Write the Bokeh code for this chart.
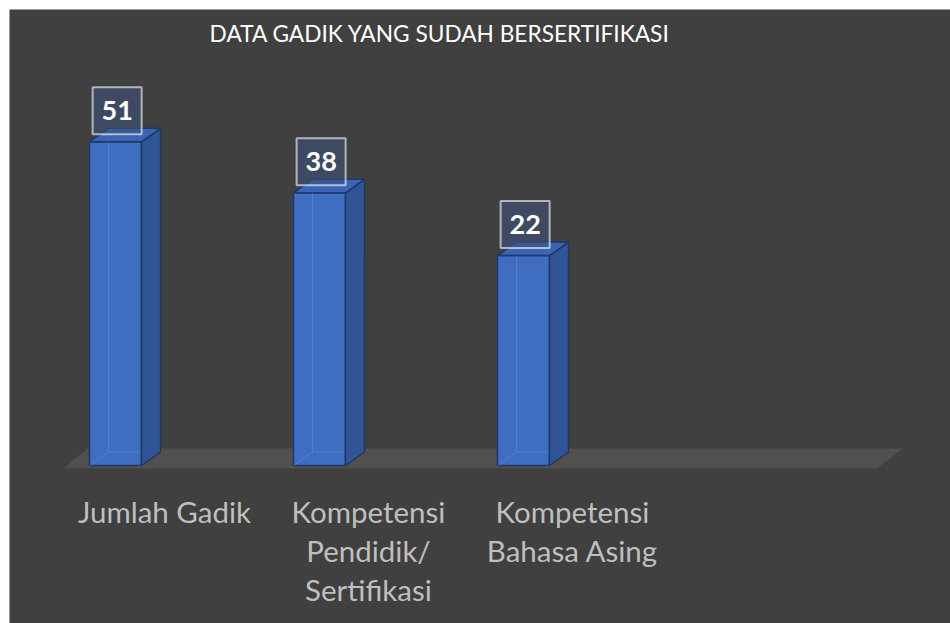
from bokeh.plotting import figure
from bokeh.models import Range1d, ColumnDataSource
from bokeh.core.properties import value
from bokeh.embed import file_html
from bokeh.resources import INLINE

# ---- data ----
TITLE = "DATA GADIK YANG SUDAH BERSERTIFIKASI"
CATEGORIES = ["Jumlah Gadik", "Kompetensi Pendidik/ Sertifikasi", "Kompetensi Bahasa Asing"]
CATEGORY_LABELS = ["Jumlah Gadik", "Kompetensi\nPendidik/\nSertifikasi", "Kompetensi\nBahasa Asing"]
VALUES = [51, 38, 22]

# ---- layout / style constants ----
W, H = 950, 623
PAD_L, PAD_T = 9, 9
CAT0_PX, SLOT_PX = 115.0, 204.0      # pixel position of first category, spacing
FLOOR_PX, PX_PER_UNIT = 465.0, 3.924  # perspective-fitted vertical scale
BASE = -31.5                          # value at the 3-D floor
BAR_W = 0.255
DX = 19 / SLOT_PX                     # depth offset in x units
DY = 13.5 / PX_PER_UNIT               # depth offset in y units

BG = "#404040"
FRONT = "#3f6dc0"
SIDE = "#2f5597"
TOP = "#3a64b4"
EDGE = "#1f3864"
FLOOR = "#514f4f"

x_start = (PAD_L - CAT0_PX) / SLOT_PX
x_end = (W - CAT0_PX) / SLOT_PX
y_start = BASE - (H - FLOOR_PX) / PX_PER_UNIT
y_end = BASE + (FLOOR_PX - PAD_T) / PX_PER_UNIT

p = figure(width=W, height=H, output_backend="svg", toolbar_location=None,
           x_range=Range1d(x_start, x_end), y_range=Range1d(y_start, y_end),
           x_axis_location=None, y_axis_location=None,
           min_border_left=PAD_L, min_border_top=PAD_T,
           min_border_right=0, min_border_bottom=0)
p.border_fill_color = "white"
p.background_fill_color = BG
p.outline_line_color = None
p.grid.visible = False

n = len(VALUES)
xs = list(range(n))

# floor (decorative 3-D base)
fl_l, fl_r = -0.255, 3.73
fd_x, fd_y = 0.118, 20 / PX_PER_UNIT
f_bot = BASE - 3 / PX_PER_UNIT
p.patch([fl_l, fl_r, fl_r + 0.133, fl_l + fd_x],
        [f_bot, f_bot, f_bot + fd_y, f_bot + fd_y],
        fill_color=FLOOR, line_color=None)

# bars: front faces
src = ColumnDataSource(dict(x=xs, top=VALUES, bottom=[BASE] * n, cat=CATEGORIES))
p.vbar(x="x", top="top", bottom="bottom", width=BAR_W, source=src,
       fill_color=FRONT, line_color=EDGE, line_width=1.5)

# hidden back edges showing faintly through the front face
hx, hy = [], []
for x, v in zip(xs, VALUES):
    l = x - BAR_W / 2
    r = x + BAR_W / 2
    hx.append([l, l + DX, l + DX]); hy.append([BASE, BASE + DY, v + DY])
    hx.append([l + DX, r]); hy.append([BASE + DY, BASE + DY])
p.multi_line(hx, hy, line_color="#6b93dc", line_alpha=0.45, line_width=1)

# side and top faces
side_xs, side_ys, top_xs, top_ys = [], [], [], []
for x, v in zip(xs, VALUES):
    r = x + BAR_W / 2
    l = x - BAR_W / 2
    side_xs.append([r, r + DX, r + DX, r])
    side_ys.append([BASE, BASE + DY, v + DY, v])
    top_xs.append([l, r, r + DX, l + DX])
    top_ys.append([v, v, v + DY, v + DY])
p.patches(side_xs, side_ys, fill_color=SIDE, line_color=EDGE, line_width=1.5)
p.patches(top_xs, top_ys, fill_color=TOP, line_color=EDGE, line_width=1.5)

# value labels in boxes
lab_off = 31 / PX_PER_UNIT
lab_src = ColumnDataSource(dict(x=[x + 0.008 for x in xs],
                                y=[v + lab_off for v in VALUES],
                                t=[str(v) for v in VALUES]))
p.rect(x="x", y="y", width=49, height=47, width_units="screen", height_units="screen",
       source=lab_src, fill_color="#3d5179", fill_alpha=0.6,
       line_color="white", line_alpha=0.6, line_width=2)
p.text(x="x", y="y", text="t", source=lab_src, text_color="white",
       text_font=value("Lato"), text_font_style="bold", text_font_size="27px",
       text_align="center", text_baseline="middle")

# category labels
cat_src = ColumnDataSource(dict(x=[x + 0.24 for x in xs],
                                y=[BASE - 28 / PX_PER_UNIT] * n,
                                t=CATEGORY_LABELS))
p.text(x="x", y="y", text="t", source=cat_src, text_color="#bfbfbf",
       text_font=value("Lato"), text_font_size="29.5px",
       text_align="center", text_baseline="top", text_line_height=1.12)

# title
p.text(x=[(439.5 - CAT0_PX) / SLOT_PX], y=[BASE + (FLOOR_PX - 33) / PX_PER_UNIT],
       text=[TITLE], text_color="white", text_font=value("Lato"),
       text_font_size="22.7px", text_align="center", text_baseline="middle")

open("out.html", "w").write(file_html(p, INLINE))
